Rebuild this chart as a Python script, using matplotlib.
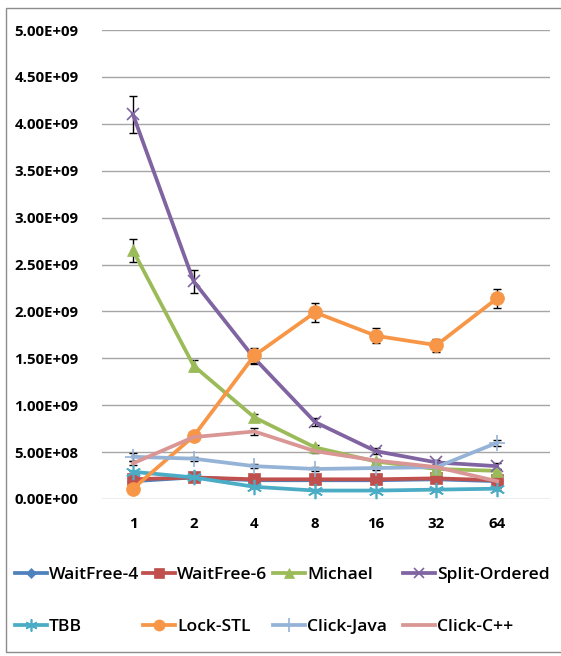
import matplotlib
matplotlib.use("Agg")
import matplotlib.pyplot as plt
from matplotlib.patches import Rectangle
import numpy as np

threads = ["1", "2", "4", "8", "16", "32", "64"]

waitfree4 = [0.19e9, 0.23e9, 0.20e9, 0.20e9, 0.20e9, 0.21e9, 0.19e9]
waitfree6 = [0.21e9, 0.23e9, 0.21e9, 0.21e9, 0.21e9, 0.22e9, 0.20e9]
michael = [2.65e9, 1.42e9, 0.87e9, 0.55e9, 0.40e9, 0.32e9, 0.30e9]
split_ordered = [4.10e9, 2.32e9, 1.50e9, 0.82e9, 0.51e9, 0.39e9, 0.35e9]
tbb = [0.29e9, 0.23e9, 0.13e9, 0.09e9, 0.09e9, 0.10e9, 0.11e9]
lock_stl = [0.11e9, 0.67e9, 1.53e9, 1.99e9, 1.74e9, 1.64e9, 2.14e9]
click_java = [0.45e9, 0.43e9, 0.35e9, 0.32e9, 0.33e9, 0.34e9, 0.60e9]
click_cpp = [0.38e9, 0.66e9, 0.72e9, 0.51e9, 0.41e9, 0.34e9, 0.19e9]

err_michael = [0.12e9, 0.06e9, 0.04e9, 0.03e9, 0.02e9, 0.02e9, 0.02e9]
err_split = [0.20e9, 0.12e9, 0.06e9, 0.04e9, 0.03e9, 0.03e9, 0.03e9]
err_lock = [0.03e9, 0.03e9, 0.08e9, 0.10e9, 0.08e9, 0.07e9, 0.10e9]
err_java = [0.04e9, 0.02e9, 0.02e9, 0.02e9, 0.02e9, 0.02e9, 0.03e9]
err_cpp = [0.02e9, 0.02e9, 0.04e9, 0.02e9, 0.02e9, 0.02e9, 0.02e9]
err_small = [0.01e9] * 7

series = [
    ("WaitFree-4", waitfree4, err_small, "#4F81BD", "D", 6),
    ("WaitFree-6", waitfree6, err_small, "#C0504D", "s", 9),
    ("Michael", michael, err_michael, "#9BBB59", "^", 9),
    ("Split-Ordered", split_ordered, err_split, "#8064A2", "x", 9),
    ("TBB", tbb, err_small, "#4BACC6", (6, 2, 0), 11),
    ("Lock-STL", lock_stl, err_lock, "#F79646", "o", 10),
    ("Click-Java", click_java, err_java, "#95B3D7", "+", 12),
    ("Click-C++", click_cpp, err_cpp, "#D99694", "", 0),
]

fig = plt.figure(figsize=(5.61, 6.56), dpi=100)
fig.patches.append(Rectangle((6 / 561, 4 / 656), 1.2, 644 / 656, transform=fig.transFigure,
                             fill=False, edgecolor="#8C8C8C", linewidth=1.0))

ax = fig.add_axes([102 / 561, 157 / 656, 448 / 561, 469 / 656])
x = np.arange(len(threads))

handles = []
for name, vals, errs, col, mk, ms in series:
    ax.errorbar(x, vals, yerr=errs, fmt="none", ecolor="black", elinewidth=1.0,
                capsize=3, capthick=1.0, zorder=3)
    mew = 1.2 if mk in ("x", "+", (6, 2, 0)) else 0.5
    h, = ax.plot(x, vals, color=col, linewidth=2.7, marker=mk if mk else None,
                 markersize=ms, markeredgecolor=col, markeredgewidth=mew,
                 label=name, zorder=4)
    handles.append(h)

ax.set_xlim(-0.51, 6.87)
ax.set_ylim(0, 5.0e9)
yt = np.arange(0, 5.01e9, 0.5e9)
ax.set_yticks(yt)
ax.set_yticklabels([f"{v:.2E}" for v in yt])
ax.set_xticks(x)
ax.set_xticklabels(threads)
ax.yaxis.grid(True, color="#A6A6A6", linewidth=1.0)
ax.set_axisbelow(True)
for s in ax.spines.values():
    s.set_visible(False)
ax.tick_params(length=0, labelsize=10.8)
ax.tick_params(axis="y", pad=17)
ax.tick_params(axis="x", pad=13)
for lab in ax.get_xticklabels() + ax.get_yticklabels():
    lab.set_fontweight("bold")
    lab.set_fontfamily("Open Sans")

# legend laid out as a 2 x 4 grid, one entry per slot
col_x = [15, 143, 273, 403]
row_y = [575, 627]
for i, h in enumerate(handles):
    r, c = divmod(i, 4)
    fig.legend(handles=[h], loc="center left",
               bbox_to_anchor=(col_x[c] / 561, 1 - row_y[r] / 656),
               frameon=False, handlelength=1.8, handletextpad=0.15,
               borderpad=0, borderaxespad=0, markerscale=0.8,
               prop={"family": "Open Sans", "weight": "semibold", "size": 12.6})

fig.savefig("out.png", dpi=100)
